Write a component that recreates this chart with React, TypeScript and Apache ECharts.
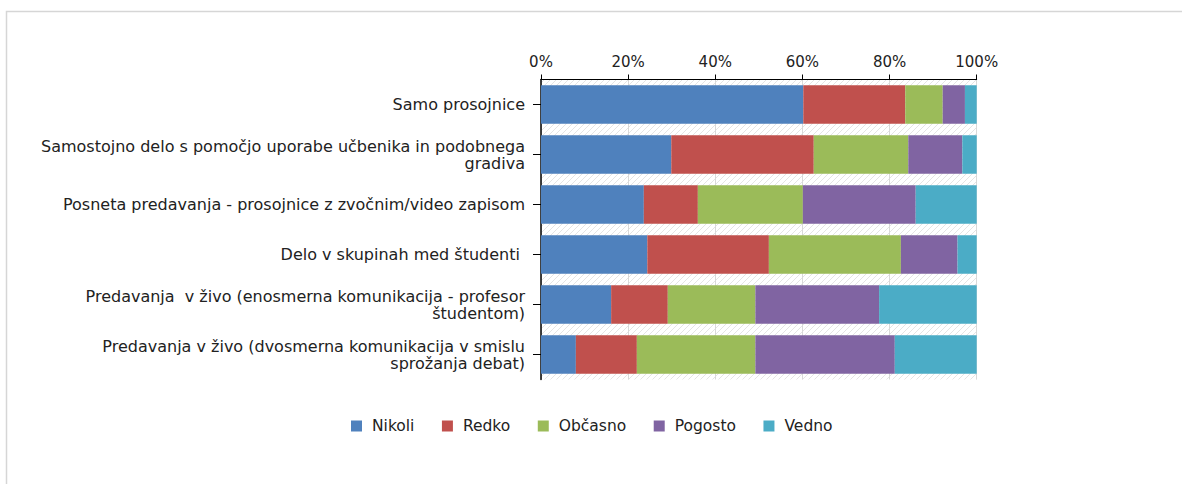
import React, { useEffect, useRef } from "react";
import * as echarts from "echarts";

const categories = [
  "Samo prosojnice",
  "Samostojno delo s pomočjo uporabe učbenika in podobnega\ngradiva",
  "Posneta predavanja - prosojnice z zvočnim/video zapisom",
  "Delo v skupinah med študenti ",
  "Predavanja  v živo (enosmerna komunikacija - profesor\nštudentom)",
  "Predavanja v živo (dvosmerna komunikacija v smislu\nsprožanja debat)",
];

const seriesNames = ["Nikoli", "Redko", "Občasno", "Pogosto", "Vedno"];
const nikoli = [60.2, 29.9, 23.6, 24.4, 16.1, 8.0];
const redko = [23.4, 32.7, 12.4, 27.9, 13.0, 14.0];
const obcasno = [8.6, 21.7, 24.1, 30.3, 20.1, 27.2];
const pogosto = [5.1, 12.4, 25.9, 13.0, 28.4, 32.0];
const vedno = [2.7, 3.3, 14.0, 4.4, 22.4, 18.8];
const seriesValues = [nikoli, redko, obcasno, pogosto, vedno];
const colors = ["#4F81BD", "#C0504D", "#9BBB59", "#8064A2", "#4BACC6"];
const xTicks = [0, 20, 40, 60, 80, 100];

export default function App() {
  const ref = useRef<HTMLDivElement>(null);
  useEffect(() => {
    document.body.style.margin = "0";
    if (!ref.current) return;
    const chart = echarts.init(ref.current, undefined, { renderer: "svg" });

    const tile = document.createElement("canvas");
    tile.width = 6;
    tile.height = 6;
    const ctx = tile.getContext("2d");
    if (ctx) {
      ctx.fillStyle = "#ffffff";
      ctx.fillRect(0, 0, 6, 6);
      ctx.strokeStyle = "#e4e4e4";
      ctx.lineWidth = 1;
      ctx.beginPath();
      ctx.moveTo(-1, 7);
      ctx.lineTo(7, -1);
      ctx.stroke();
    }

    const font = "DejaVu Sans";
    chart.setOption({
      animation: false,
      textStyle: { fontFamily: font },
      graphic: [
        {
          type: "rect",
          shape: { x: 6.5, y: 11.5, width: 1300, height: 600 },
          style: { fill: "none", stroke: "#d6d6d6", lineWidth: 1.5 },
          silent: true,
        },
      ],
      grid: {
        left: 541,
        top: 79.5,
        width: 435.7,
        height: 300,
        show: true,
        borderWidth: 0,
        backgroundColor: { image: tile, repeat: "repeat" },
      },
      legend: {
        data: seriesNames,
        left: 346,
        top: 413,
        itemWidth: 11,
        itemHeight: 11,
        itemGap: 27.5,
        icon: "rect",
        textStyle: {
          fontFamily: font,
          fontSize: 15.5,
          color: "#222",
          padding: [0, 0, 0, 5],
        },
      },
      xAxis: {
        type: "value",
        position: "top",
        min: xTicks[0],
        max: xTicks[xTicks.length - 1],
        interval: 20,
        axisLine: { show: true, lineStyle: { color: "#000", width: 1 } },
        axisTick: { show: true, length: 5, lineStyle: { color: "#000" } },
        axisLabel: {
          formatter: "{value}%",
          fontFamily: font,
          fontSize: 15,
          color: "#222",
          margin: 10,
        },
        splitLine: { show: true, lineStyle: { color: "#d9d9d9", width: 1 } },
      },
      yAxis: {
        type: "category",
        inverse: true,
        data: categories,
        axisLine: { show: true, lineStyle: { color: "#000", width: 1.5 } },
        axisTick: {
          show: true,
          alignWithLabel: true,
          length: 8,
          lineStyle: { color: "#000" },
        },
        axisLabel: {
          fontFamily: font,
          fontSize: 16,
          color: "#222",
          margin: 16,
          lineHeight: 17,
          align: "right",
        },
      },
      series: seriesNames.map((name, i) => ({
        name,
        type: "bar",
        stack: "total",
        barWidth: "77%",
        data: seriesValues[i],
        itemStyle: { color: colors[i] },
      })),
    });
    return () => chart.dispose();
  }, []);
  return <div ref={ref} style={{ width: 1182, height: 484 }} />;
}
